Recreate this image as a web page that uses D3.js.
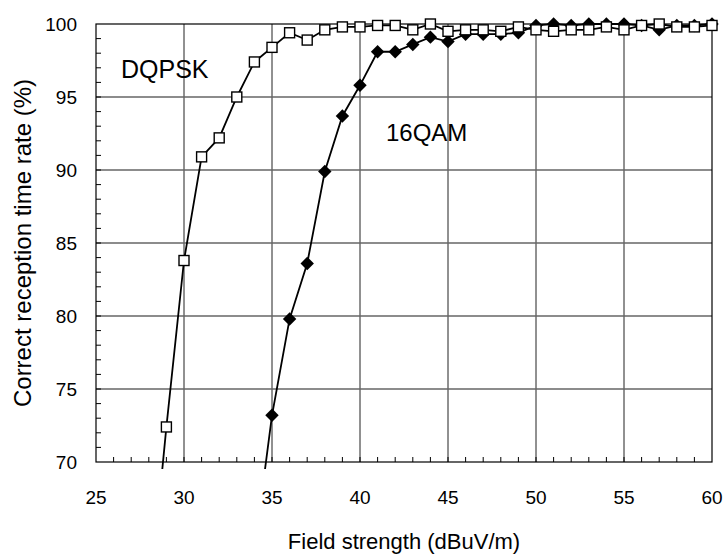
<!DOCTYPE html>
<html>
<head>
<meta charset="utf-8">
<script src="https://cdn.jsdelivr.net/npm/d3@7"></script>
<style>
  body { margin: 0; background: #fff; }
  svg { font-family: "Liberation Sans", Arial, sans-serif; }
</style>
</head>
<body>
<script>
// Field strength (dBuV/m) for each measurement
const dqpskX = [28, 29, 30, 31, 32, 33, 34, 35, 36, 37, 38, 39, 40, 41, 42, 43, 44, 45, 46, 47, 48, 49, 50, 51, 52, 53, 54, 55, 56, 57, 58, 59, 60];
const dqpskY = [60.0, 72.4, 83.8, 90.9, 92.2, 95.0, 97.4, 98.4, 99.4, 98.9, 99.6, 99.8, 99.8, 99.9, 99.9, 99.6, 100.0, 99.5, 99.6, 99.6, 99.5, 99.8, 99.6, 99.5, 99.6, 99.6, 99.8, 99.6, 99.9, 100.0, 99.8, 99.8, 99.9];

const qamX = [34, 35, 36, 37, 38, 39, 40, 41, 42, 43, 44, 45, 46, 47, 48, 49, 50, 51, 52, 53, 54, 55, 56, 57, 58, 59, 60];
const qamY = [63.9, 73.2, 79.8, 83.6, 89.9, 93.7, 95.8, 98.1, 98.1, 98.6, 99.1, 98.8, 99.3, 99.3, 99.3, 99.4, 99.9, 100.0, 99.9, 100.0, 100.0, 100.0, 99.9, 99.6, 99.9, 99.9, 100.0];

const xTicks = [25, 30, 35, 40, 45, 50, 55, 60];
const yTicks = [70, 75, 80, 85, 90, 95, 100];

const width = 728, height = 558;
const margin = { top: 24, right: 16, bottom: 96, left: 96 };

const svg = d3.select("body").append("svg")
    .attr("width", width)
    .attr("height", height);

const x = d3.scaleLinear().domain([25, 60]).range([margin.left, width - margin.right]);
const y = d3.scaleLinear().domain([70, 100]).range([height - margin.bottom, margin.top]);

// grid lines
svg.append("g")
  .selectAll("line")
  .data(xTicks.slice(1, -1))
  .join("line")
    .attr("x1", d => x(d)).attr("x2", d => x(d))
    .attr("y1", y(70)).attr("y2", y(100))
    .attr("stroke", "#222").attr("stroke-width", 1);

svg.append("g")
  .selectAll("line")
  .data(yTicks.slice(1, -1))
  .join("line")
    .attr("x1", x(25)).attr("x2", x(60))
    .attr("y1", d => y(d)).attr("y2", d => y(d))
    .attr("stroke", "#666").attr("stroke-width", 1.3);

// minor ticks pointing inward
svg.append("g")
  .selectAll("line")
  .data(d3.range(26, 60))
  .join("line")
    .attr("x1", d => x(d)).attr("x2", d => x(d))
    .attr("y1", y(70)).attr("y2", y(70) - 5)
    .attr("stroke", "#000");

svg.append("g")
  .selectAll("line")
  .data(d3.range(71, 100))
  .join("line")
    .attr("x1", x(25)).attr("x2", x(25) + 5)
    .attr("y1", d => y(d)).attr("y2", d => y(d))
    .attr("stroke", "#000");

// frame
svg.append("rect")
    .attr("x", x(25)).attr("y", y(100))
    .attr("width", x(60) - x(25)).attr("height", y(70) - y(100))
    .attr("fill", "none").attr("stroke", "#000").attr("stroke-width", 1.2);

// tick labels
svg.append("g")
  .selectAll("text")
  .data(xTicks)
  .join("text")
    .attr("x", d => x(d)).attr("y", y(70) + 42)
    .attr("text-anchor", "middle")
    .attr("font-size", 19)
    .text(d => d);

svg.append("g")
  .selectAll("text")
  .data(yTicks)
  .join("text")
    .attr("x", x(25) - 19).attr("y", d => y(d) + 7)
    .attr("text-anchor", "end")
    .attr("font-size", 19)
    .text(d => d);

// axis titles
svg.append("text")
    .attr("x", (x(25) + x(60)) / 2).attr("y", 549)
    .attr("text-anchor", "middle")
    .attr("font-size", 22)
    .text("Field strength (dBuV/m)");

svg.append("text")
    .attr("transform", `translate(31,${(y(70) + y(100)) / 2}) rotate(-90)`)
    .attr("text-anchor", "middle")
    .attr("font-size", 24)
    .text("Correct reception time rate (%)");

// lines can run a little below the frame
svg.append("defs").append("clipPath").attr("id", "clip")
  .append("rect")
    .attr("x", x(25)).attr("y", 0)
    .attr("width", x(60) - x(25) + 10).attr("height", y(70) + 7);

const line = d3.line().x(d => x(d[0])).y(d => y(d[1]));
const dqpsk = dqpskX.map((v, i) => [v, dqpskY[i]]);
const qam = qamX.map((v, i) => [v, qamY[i]]);

svg.append("path")
    .attr("d", line(qam))
    .attr("clip-path", "url(#clip)")
    .attr("fill", "none").attr("stroke", "#000").attr("stroke-width", 1.8);

svg.append("path")
    .attr("d", line(dqpsk))
    .attr("clip-path", "url(#clip)")
    .attr("fill", "none").attr("stroke", "#000").attr("stroke-width", 1.8);

// markers (only those inside the axis range)
const diamond = d3.symbol().type(d3.symbolDiamond2).size(115);
svg.append("g")
  .selectAll("path")
  .data(qam.filter(d => d[1] >= 70))
  .join("path")
    .attr("transform", d => `translate(${x(d[0])},${y(d[1])})`)
    .attr("d", diamond)
    .attr("fill", "#000");

svg.append("g")
  .selectAll("rect")
  .data(dqpsk.filter(d => d[1] >= 70))
  .join("rect")
    .attr("x", d => x(d[0]) - 5).attr("y", d => y(d[1]) - 5)
    .attr("width", 10).attr("height", 10)
    .attr("fill", "#fff").attr("stroke", "#000").attr("stroke-width", 1.4);

// series labels
svg.append("text")
    .attr("x", 121).attr("y", 78)
    .attr("font-size", 25)
    .text("DQPSK");

svg.append("text")
    .attr("x", 386).attr("y", 141)
    .attr("font-size", 24)
    .text("16QAM");
</script>
</body>
</html>
